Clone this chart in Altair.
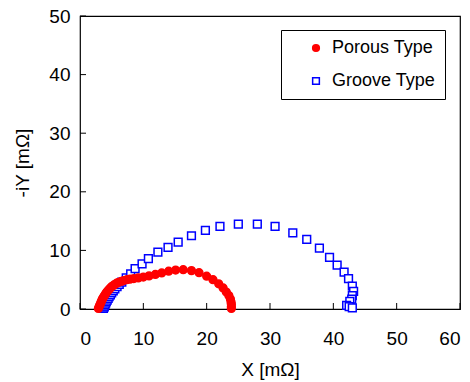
import altair as alt
import pandas as pd

porous_x = [2.9, 3.0, 3.1, 3.2, 3.3, 3.4, 3.5, 3.6, 3.75, 3.9, 4.05, 4.2, 4.4, 4.6, 4.8, 5.0,
            5.25, 5.5, 5.8, 6.1, 6.5, 6.9, 7.4, 7.9, 8.5, 9.2, 10.0, 10.9, 11.9, 12.9, 14.0,
            15.1, 16.3, 17.6, 18.8, 20.0, 21.0, 21.9, 22.6, 23.1, 23.5, 23.75, 23.85, 23.9,
            23.9, 23.9]
porous_y = [0.1, 0.35, 0.6, 0.85, 1.1, 1.35, 1.6, 1.85, 2.1, 2.35, 2.6, 2.85, 3.1, 3.35, 3.6,
            3.8, 4.0, 4.2, 4.4, 4.55, 4.7, 4.85, 5.0, 5.1, 5.2, 5.3, 5.45, 5.65, 5.9, 6.15,
            6.45, 6.65, 6.7, 6.55, 6.2, 5.6, 5.0, 4.3, 3.6, 2.9, 2.3, 1.7, 1.2, 0.8, 0.4, 0.1]

groove_x = [3.7, 3.8, 3.85, 3.95, 4.05, 4.15, 4.3, 4.45, 4.6, 4.8, 5.0, 5.25, 5.5, 5.85, 6.2,
            6.6, 7.3, 8.0, 8.7, 9.8, 10.8, 12.3, 13.9, 15.5, 17.6, 19.8, 22.1, 25.0, 28.0,
            30.8, 33.6, 35.8, 37.8, 39.4, 40.6, 41.7, 42.4, 43.0, 43.2, 43.0, 42.9, 42.6,
            42.1, 42.5, 43.0]
groove_y = [0.1, 0.3, 0.5, 0.75, 1.0, 1.25, 1.5, 1.8, 2.1, 2.4, 2.75, 3.1, 3.45, 3.8, 4.2,
            4.6, 5.3, 6.0, 6.9, 7.7, 8.6, 9.7, 10.5, 11.4, 12.5, 13.4, 14.1, 14.5, 14.5, 14.1,
            13.0, 11.9, 10.4, 8.8, 7.5, 6.3, 5.2, 3.9, 3.0, 2.3, 1.7, 1.3, 0.6, 0.4, 0.2]

series_names = ["Porous Type", "Groove Type"]
x_ticks = [0, 10, 20, 30, 40, 50, 60]
y_ticks = [0, 10, 20, 30, 40, 50]

df = pd.concat([
    pd.DataFrame({"x": porous_x, "y": porous_y, "s": series_names[0]}),
    pd.DataFrame({"x": groove_x, "y": groove_y, "s": series_names[1]}),
])

W, H = 380, 293
FONT = "Liberation Sans"

xscale = alt.Scale(domain=[0, 60], nice=False)
yscale = alt.Scale(domain=[0, 50], nice=False)

points = alt.Chart(df).mark_point(filled=False, size=60, strokeWidth=1.5, opacity=1).encode(
    x=alt.X("x:Q", scale=xscale,
            axis=alt.Axis(values=x_ticks, title="X [mΩ]", tickSize=0, labelPadding=20,
                          titlePadding=12, grid=False)),
    y=alt.Y("y:Q", scale=yscale,
            axis=alt.Axis(values=y_ticks, title="-iY [mΩ]", tickSize=0, labelPadding=10,
                          titlePadding=16, grid=False)),
    color=alt.Color("s:N", scale=alt.Scale(domain=series_names, range=["#ff0000", "#0000ff"]),
                    title=None),
    fill=alt.Fill("s:N", scale=alt.Scale(domain=series_names, range=["#ff0000", "#ffffff"]),
                  title=None),
    shape=alt.Shape("s:N", scale=alt.Scale(domain=series_names, range=["circle", "square"]),
                    title=None),
    order=alt.Order("s:N", sort="ascending"),
).properties(width=W, height=H)

xt = alt.Chart(pd.DataFrame({"v": x_ticks})).mark_rule(color="black", strokeWidth=1).encode(
    x=alt.X("v:Q", scale=xscale), y=alt.value(H), y2=alt.value(H - 6))
yt = alt.Chart(pd.DataFrame({"v": y_ticks})).mark_rule(color="black", strokeWidth=1).encode(
    y=alt.Y("v:Q", scale=yscale), x=alt.value(0), x2=alt.value(6))

chart = alt.layer(points, xt, yt).properties(
    width=W, height=H,
    autosize=alt.AutoSizeParams(type="none"),
    padding={"left": 80, "top": 16, "right": 10, "bottom": 73},
).configure_view(stroke="black", strokeWidth=1.2).configure_axis(
    labelFont=FONT, titleFont=FONT, labelFontSize=19, titleFontSize=19,
    labelColor="black", titleColor="black", titleFontWeight="normal",
    domain=False,
).configure_legend(
    orient="none", legendX=201, legendY=14, strokeColor="black", strokeWidth=1,
    padding=9, labelFont=FONT, labelFontSize=18, labelColor="black",
    symbolSize=45, symbolStrokeWidth=1.5, rowPadding=15, symbolOffset=17,
    labelOffset=7, fillColor="white",
)

chart.save("out.html", embed_options={"renderer": "svg", "actions": False})
